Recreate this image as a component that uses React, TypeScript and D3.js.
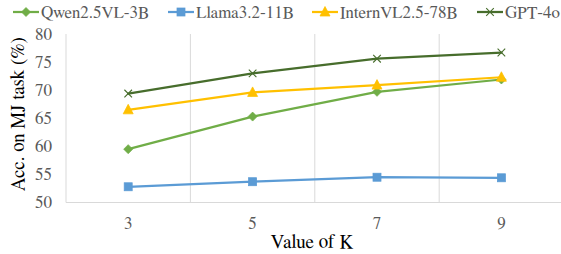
import React from "react";
import * as d3 from "d3";

const categories = ["3", "5", "7", "9"];
const seriesNames = ["Qwen2.5VL-3B", "Llama3.2-11B", "InternVL2.5-78B", "GPT-4o"];
const qwenValues = [59.5, 65.3, 69.7, 71.9];
const llamaValues = [52.8, 53.7, 54.5, 54.4];
const internValues = [66.5, 69.6, 70.9, 72.3];
const gptValues = [69.4, 73.0, 75.6, 76.7];
const yTicks = [50, 55, 60, 65, 70, 75, 80];

const W = 561;
const H = 254;
const FONT = "FreeSerif, 'DejaVu Serif', serif";

const colors = ["#70AD47", "#5B9BD5", "#FFC000", "#476D2C"];
const markers = ["diamond", "square", "triangle", "cross"];
const legendX = [13, 168, 312, 477];

function Marker({ type, x, y, color }: { type: string; x: number; y: number; color: string }) {
  if (type === "diamond") {
    const s = 4.5;
    return <path d={`M${x},${y - s}L${x + s},${y}L${x},${y + s}L${x - s},${y}Z`} fill={color} stroke={color} strokeWidth={0.75} />;
  }
  if (type === "square") {
    const s = 4;
    return <rect x={x - s} y={y - s} width={2 * s} height={2 * s} fill={color} stroke={color} strokeWidth={0.75} />;
  }
  if (type === "triangle") {
    const s = 5;
    return <path d={`M${x},${y - s - 0.5}L${x + s},${y + s - 1}L${x - s},${y + s - 1}Z`} fill={color} stroke={color} strokeWidth={0.75} />;
  }
  const s = 3.8;
  return (
    <path d={`M${x - s},${y - s}L${x + s},${y + s}M${x - s},${y + s}L${x + s},${y - s}`} stroke={color} strokeWidth={1.1} fill="none" />
  );
}

export default function App() {
  const left = 66;
  const right = 563.6;
  const top = 34;
  const bottom = 202.5;
  const allSeries = [qwenValues, llamaValues, internValues, gptValues];

  const x = d3.scalePoint<string>().domain(categories).range([left, right]).padding(0.5);
  const y = d3.scaleLinear().domain([50, 80]).range([bottom, top]);
  const step = x.step();
  const line = d3
    .line<number>()
    .x((_, i) => x(categories[i]) as number)
    .y((d) => y(d));

  const gridXs = d3.range(1, categories.length).map((i) => left + i * step);

  return (
    <svg width={W} height={H} style={{ position: "absolute", left: 0, top: 0, background: "#fff", fontFamily: FONT }}>
      {gridXs.map((gx, i) => (
        <line key={i} x1={gx} x2={gx} y1={top} y2={bottom} stroke="#D9D9D9" strokeWidth={1} />
      ))}
      <line x1={left} x2={left} y1={top} y2={bottom} stroke="#D9D9D9" strokeWidth={1} />
      <line x1={left} x2={W} y1={bottom} y2={bottom} stroke="#D9D9D9" strokeWidth={1} />

      {yTicks.map((t) => (
        <text key={t} x={52} y={y(t) + 5.5} textAnchor="end" fontSize={17} fill="#595959">
          {t}
        </text>
      ))}
      {categories.map((c) => (
        <text key={c} x={x(c) as number} y={229} textAnchor="middle" fontSize={17} fill="#595959">
          {c}
        </text>
      ))}

      <text x={312} y={248} textAnchor="middle" fontSize={19} fill="#000">
        Value of K
      </text>
      <text transform={`translate(24,${(top + bottom) / 2 - 4}) rotate(-90)`} textAnchor="middle" fontSize={19} fill="#000">
        Acc. on MJ task (%)
      </text>

      {allSeries.map((vals, si) => (
        <g key={si}>
          <path d={line(vals) as string} fill="none" stroke={colors[si]} strokeWidth={2.25} strokeLinejoin="round" strokeLinecap="round" />
          {vals.map((v, i) => (
            <Marker key={i} type={markers[si]} x={x(categories[i]) as number} y={y(v)} color={colors[si]} />
          ))}
        </g>
      ))}

      {seriesNames.map((name, si) => (
        <g key={name}>
          <line x1={legendX[si]} x2={legendX[si] + 26} y1={12} y2={12} stroke={colors[si]} strokeWidth={2.25} />
          <Marker type={markers[si]} x={legendX[si] + 13} y={12} color={colors[si]} />
          <text x={legendX[si] + 28} y={18} fontSize={17} fill="#595959">
            {name}
          </text>
        </g>
      ))}
    </svg>
  );
}
